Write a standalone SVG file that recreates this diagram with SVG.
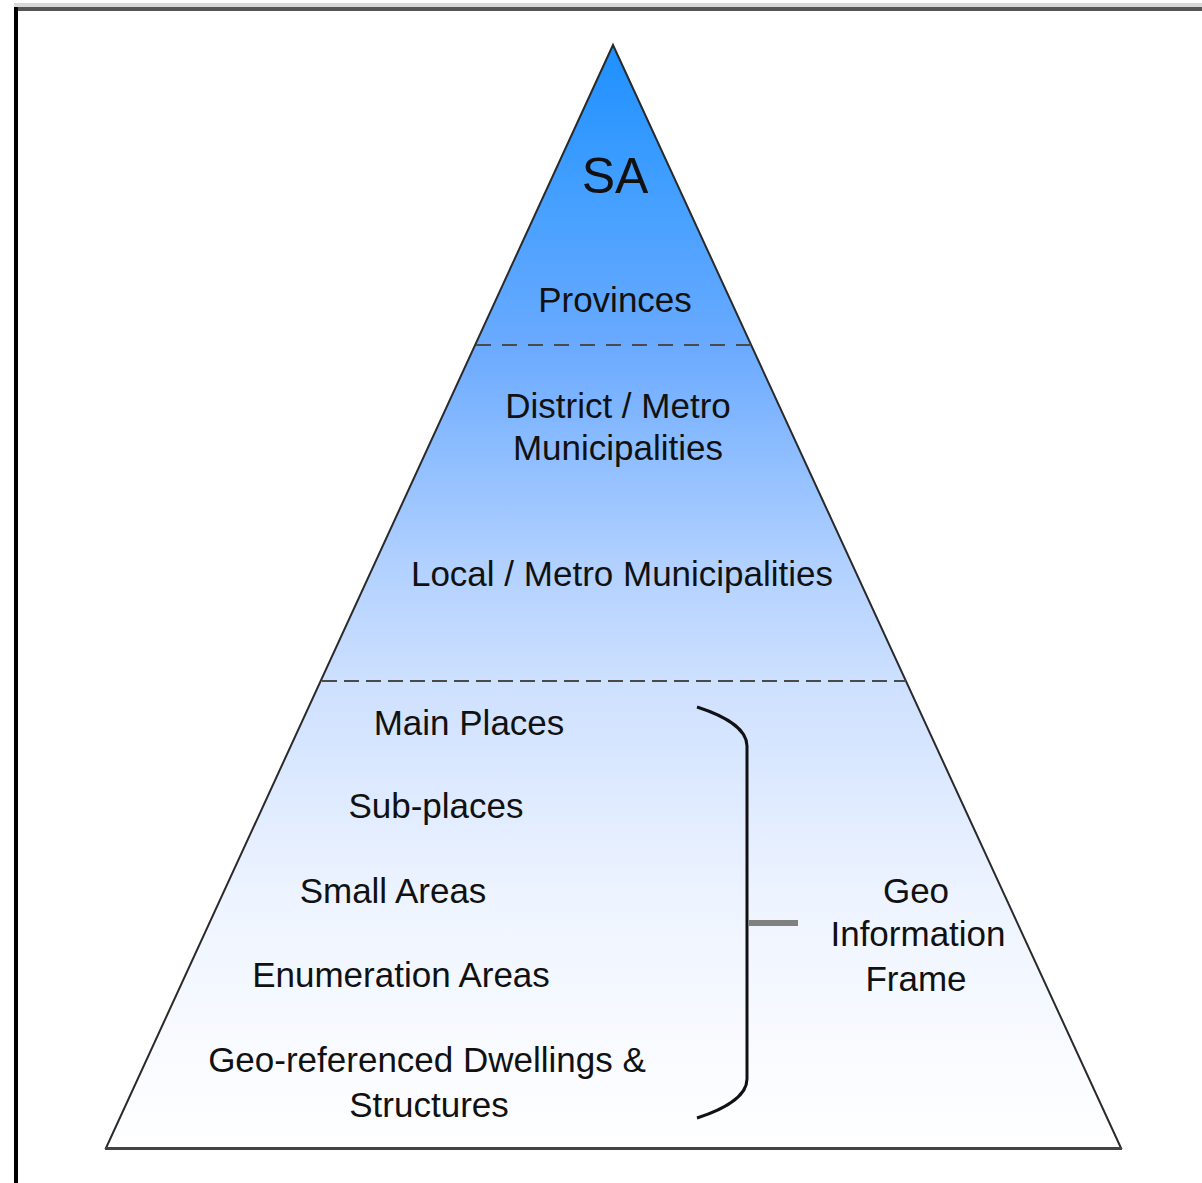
<svg xmlns="http://www.w3.org/2000/svg" width="1202" height="1183" viewBox="0 0 1202 1183">
  <style>
    .lbl { font-family: "Liberation Sans", Arial, sans-serif; font-size: 35px; fill: #111; text-anchor: middle; }
    .big { font-size: 50px; }
    .dash { stroke: #4a4a4a; stroke-width: 2; fill: none; }
  </style>
  <defs>
    <linearGradient id="pyr" gradientUnits="userSpaceOnUse" x1="0" y1="45" x2="0" y2="1148">
      <stop offset="0" stop-color="#1e90ff"/>
      <stop offset="0.14" stop-color="#45a0ff"/>
      <stop offset="0.272" stop-color="#6aaaff"/>
      <stop offset="0.467" stop-color="#b0d0ff"/>
      <stop offset="0.576" stop-color="#cde0ff"/>
      <stop offset="0.775" stop-color="#eef4ff"/>
      <stop offset="1" stop-color="#ffffff"/>
    </linearGradient>
  </defs>
  <rect width="1202" height="1183" fill="#ffffff"/>
  <g id="frame">
    <rect x="14" y="3" width="1188" height="4" fill="#d8d8d8"/>
    <rect x="14" y="7" width="1188" height="4" fill="#555555"/>
    <rect x="14" y="7" width="4" height="1176" fill="#000000"/>
  </g>
  <g id="pyramid">
    <polygon points="613,45 1121,1148 106,1148" fill="url(#pyr)" stroke="#2a2a2a" stroke-width="2"/>
    <line x1="105" y1="1148.5" x2="1122" y2="1148.5" stroke="#444" stroke-width="3"/>
  </g>
  <g id="dividers">
    <line class="dash" x1="476" y1="345" x2="751" y2="345" stroke-dasharray="15 11"/>
    <line class="dash" x1="322" y1="681" x2="906" y2="681" stroke-dasharray="15 7"/>
  </g>
  <g id="level-sa"><text class="lbl big" x="615" y="193">SA</text></g>
  <g id="level-provinces"><text class="lbl" x="615" y="312">Provinces</text></g>
  <g id="level-district">
    <text class="lbl" x="618" y="418">District / Metro</text>
    <text class="lbl" x="618" y="460">Municipalities</text>
  </g>
  <g id="level-local"><text class="lbl" x="622" y="586">Local / Metro Municipalities</text></g>
  <g id="level-main"><text class="lbl" x="469" y="735">Main Places</text></g>
  <g id="level-sub"><text class="lbl" x="436" y="818">Sub-places</text></g>
  <g id="level-small"><text class="lbl" x="393" y="903">Small Areas</text></g>
  <g id="level-ea"><text class="lbl" x="401" y="987">Enumeration Areas</text></g>
  <g id="level-dwellings">
    <text class="lbl" x="427" y="1072">Geo-referenced Dwellings &amp;</text>
    <text class="lbl" x="429" y="1117">Structures</text>
  </g>
  <g id="connectors">
    <path d="M697,707 C722,715 747,728 747,746 L747,1079 C747,1097 722,1110 697,1118" fill="none" stroke="#111" stroke-width="3"/>
    <line x1="749" y1="923" x2="798" y2="923" stroke="#808080" stroke-width="6"/>
  </g>
  <g id="geo-frame">
    <text class="lbl" x="916" y="903">Geo</text>
    <text class="lbl" x="918" y="946">Information</text>
    <text class="lbl" x="916" y="991">Frame</text>
  </g>
</svg>
